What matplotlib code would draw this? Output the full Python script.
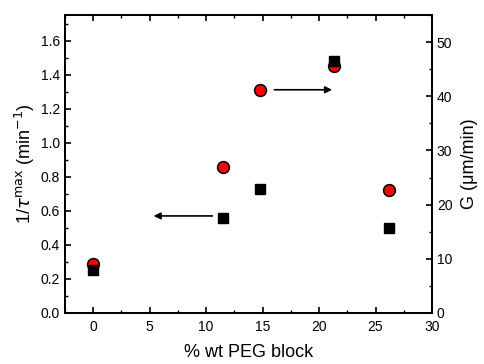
import matplotlib
matplotlib.use("Agg")
import matplotlib.pyplot as plt
from matplotlib.ticker import MultipleLocator

plt.rcParams["font.family"] = ["Liberation Sans", "DejaVu Sans"]

# % wt PEG block
peg = [0, 11.5, 14.8, 21.3, 26.2]
# 1/tau_max (min^-1), left axis, black squares
inv_tau = [0.25, 0.56, 0.73, 1.48, 0.50]
# G (um/min), right axis, red circles
growth = [9.1, 27.0, 41.2, 45.5, 22.7]

fig = plt.figure(figsize=(4.84, 3.64), dpi=100)
ax1 = fig.add_axes([65 / 484, 1 - 313 / 364, 367 / 484, 298 / 364])
ax2 = ax1.twinx()
ax1.set_zorder(ax2.get_zorder() + 1)
ax1.patch.set_visible(False)

ax2.plot(peg, growth, "o", color="red", markeredgecolor="black",
         markeredgewidth=1.1, markersize=8.5)
ax1.plot(peg, inv_tau, "s", color="black", markersize=7.5)

ax1.annotate("", xy=(5.1, 0.57), xytext=(10.8, 0.57),
             arrowprops=dict(arrowstyle="-|>", color="black", lw=1.2,
                             mutation_scale=10))
ax2.annotate("", xy=(21.4, 41.2), xytext=(15.8, 41.2),
             arrowprops=dict(arrowstyle="-|>", color="black", lw=1.2,
                             mutation_scale=10))

ax1.set_xlim(-2.5, 30)
ax1.set_ylim(0, 1.75)
ax2.set_ylim(0, 55)

ax1.xaxis.set_major_locator(MultipleLocator(5))
ax1.xaxis.set_minor_locator(MultipleLocator(2.5))
ax1.yaxis.set_major_locator(MultipleLocator(0.2))
ax1.yaxis.set_minor_locator(MultipleLocator(0.1))
ax2.yaxis.set_major_locator(MultipleLocator(10))
ax2.yaxis.set_minor_locator(MultipleLocator(5))
ax1.yaxis.set_major_formatter(matplotlib.ticker.FormatStrFormatter("%.1f"))

ax1.tick_params(axis="x", which="both", direction="in", top=True, labelsize=10, pad=5)
ax1.tick_params(axis="y", which="both", direction="in", labelsize=10)
ax2.tick_params(axis="y", which="both", direction="in", labelsize=10)
for ax in (ax1, ax2):
    ax.tick_params(which="major", length=4, width=1.2)
    ax.tick_params(which="minor", length=2, width=1.0)
    for s in ax.spines.values():
        s.set_linewidth(1.3)

ax1.set_xlabel("% wt PEG block", fontsize=13, labelpad=7)
ax1.set_ylabel(r"1/$\tau^{\rm max}$ (min$^{-1}$)", fontsize=13, labelpad=3)
ax2.set_ylabel("G (μm/min)", fontsize=13, labelpad=6)

fig.savefig("out.png", dpi=100)
